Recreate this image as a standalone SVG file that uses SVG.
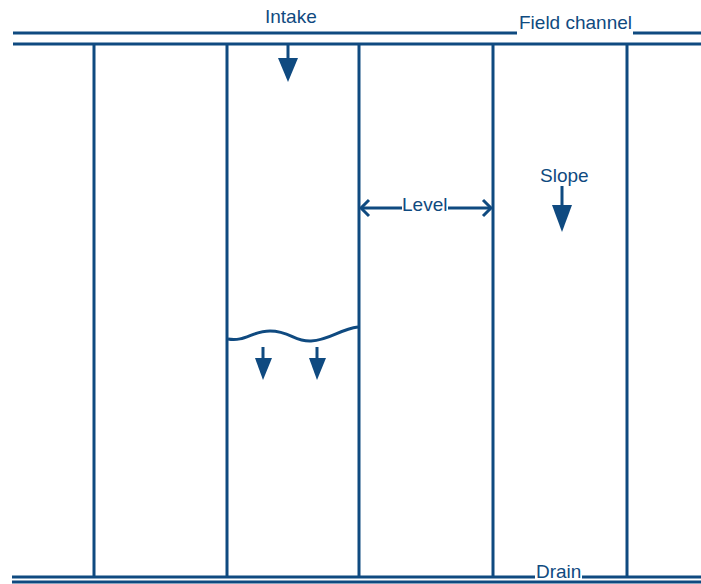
<svg xmlns="http://www.w3.org/2000/svg" width="701" height="584" viewBox="0 0 701 584">
<defs>
<style>
.ln{stroke:#0f4a80;stroke-width:3;fill:none}
.txt{font-family:"Liberation Sans",Arial,sans-serif;font-size:19px;fill:#0f4a80}
.hd{fill:#0f4a80}
</style>
</defs>
<rect width="701" height="584" fill="#fff"/>
<g id="connectors">
<path class="ln" d="M13 33 H517 M633 33 H701"/>
<path class="ln" d="M13 44 H701"/>
<path class="ln" d="M12 577 H535 M582 577 H701"/>
<path class="ln" d="M12 582 H701"/>
<path class="ln" d="M94 44 V577 M227 44 V577 M359 44 V577 M493 44 V577 M627 44 V577"/>
<path class="ln" d="M288 44 V60"/>
<polygon class="hd" points="278,58 298,58 288,82"/>
<path class="ln" d="M361 208 H402 M448 208 H491"/>
<path class="ln" d="M369 200 L361 208 L369 216 M483 200 L491 208 L483 216"/>
<path class="ln" d="M562 186 V207"/>
<polygon class="hd" points="552,205 572,205 562,232"/>
<path class="ln" d="M228 339 C 245 342, 252 331, 270 331 C 290 331, 295 342, 311 341 C 330 340, 340 329, 358 327"/>
<path class="ln" d="M263 347 V360"/>
<polygon class="hd" points="255,358 272,358 263,380"/>
<path class="ln" d="M317 347 V360"/>
<polygon class="hd" points="309,358 326,358 317,380"/>
</g>
<g id="intake"><text class="txt" x="265" y="23">Intake</text></g>
<g id="field-channel"><text class="txt" x="519" y="29">Field channel</text></g>
<g id="level"><text class="txt" x="402" y="211">Level</text></g>
<g id="slope"><text class="txt" x="540" y="182">Slope</text></g>
<g id="drain"><text class="txt" x="536" y="578">Drain</text></g>
</svg>
